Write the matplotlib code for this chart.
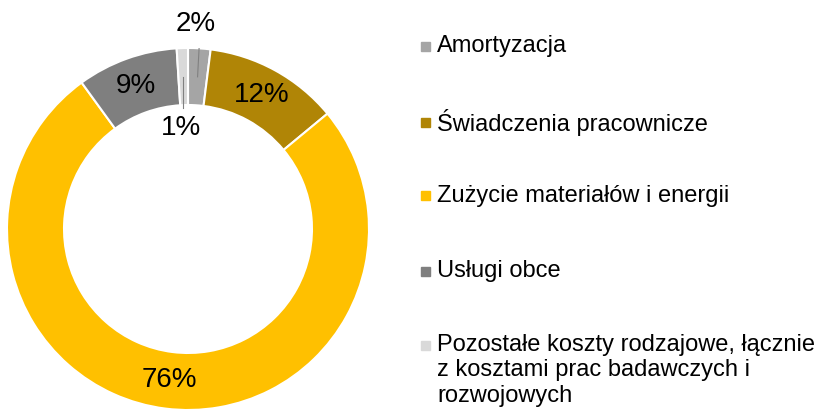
import numpy as np
import matplotlib.pyplot as plt

# ============================================================
# Data
# ============================================================

categories = [
    "Amortyzacja",
    "Świadczenia pracownicze",
    "Zużycie materiałów i energii",
    "Usługi obce",
    "Pozostałe koszty rodzajowe, łącznie\nz kosztami prac badawczych i\nrozwojowych",
]
shares = [2, 12, 76, 9, 1]
labels = ["2%", "12%", "76%", "9%", "1%"]
colors = ["#A5A5A5", "#B08506", "#FFC000", "#7F7F7F", "#D9D9D9"]

plt.rcParams["font.family"] = ["Liberation Sans", "DejaVu Sans"]

# ============================================================
# Donut
# ============================================================

fig = plt.figure(figsize=(8.26, 4.12), dpi=100)
ax = fig.add_axes([7 / 826, 2 / 412, 362 / 826, 362 / 412])

ring_width = 0.315
wedges, _ = ax.pie(
    shares,
    colors=colors,
    startangle=90,
    counterclock=False,
    radius=1,
    wedgeprops=dict(width=ring_width, edgecolor="white", linewidth=1.5),
)
ax.set_xlim(-1, 1)
ax.set_ylim(-1, 1)
ax.set_aspect("equal")
ax.axis("off")

r_mid = 1 - ring_width / 2
total = sum(shares)
cum = np.cumsum([0] + shares)

for i, text in enumerate(labels):
    mid = 90 - 360 * (cum[i] + shares[i] / 2) / total
    x = r_mid * np.cos(np.radians(mid))
    y = r_mid * np.sin(np.radians(mid))
    if text == "2%":
        # small slice: label above the ring with a leader line
        ax.plot([x, x + 0.01], [y, 1.03], color="#808080", lw=0.8)
        ax.text(x - 0.01, 1.06, text, ha="center", va="bottom", fontsize=20)
    elif text == "1%":
        # small slice: label inside the hole with a leader line
        ax.plot([x, x], [y, 0.67], color="#808080", lw=0.8)
        ax.text(x - 0.01, 0.63, text, ha="center", va="top", fontsize=20)
    else:
        ax.text(x, y, text, ha="center", va="center", fontsize=20)

# ============================================================
# Legend
# ============================================================

legend_y = [46, 122, 196, 271, 345]
for cat, col, y in zip(categories, colors, legend_y):
    fig.patches.append(
        plt.Rectangle(
            (421 / 826, (412 - y - 4.5) / 412),
            9 / 826,
            9 / 412,
            transform=fig.transFigure,
            color=col,
            figure=fig,
        )
    )
    if "\n" in cat:
        fig.text(
            437 / 826,
            (412 - y + 11) / 412,
            cat,
            ha="left",
            va="top",
            fontsize=17,
            linespacing=1.2,
        )
    else:
        fig.text(
            437 / 826,
            (412 - y) / 412,
            cat,
            ha="left",
            va="center",
            fontsize=17,
        )

plt.savefig("out.png", dpi=100)
